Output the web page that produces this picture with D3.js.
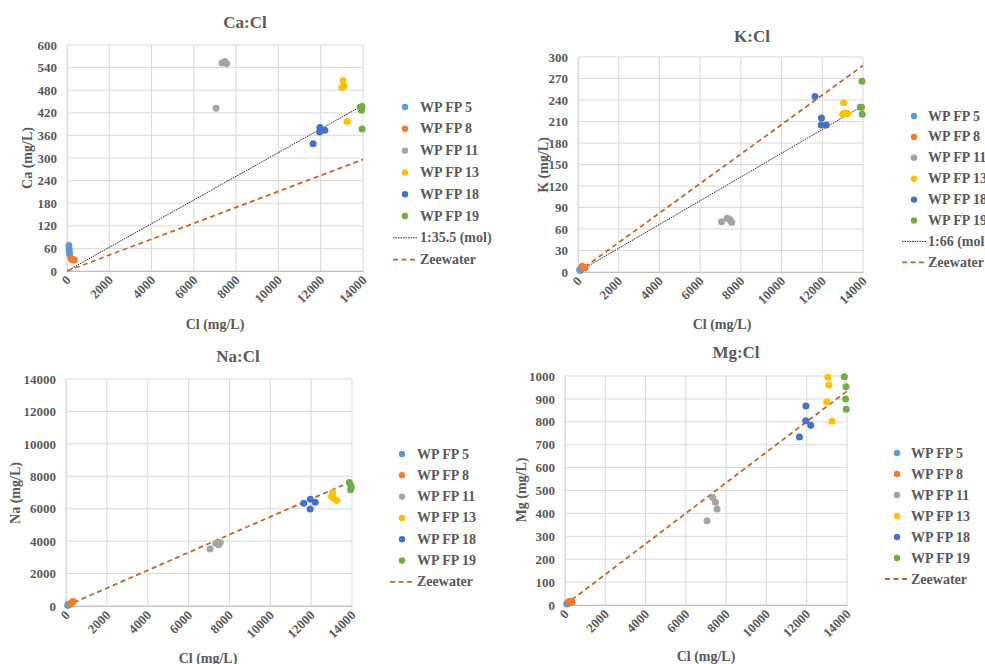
<!DOCTYPE html>
<html>
<head>
<meta charset="utf-8">
<script src="https://cdn.jsdelivr.net/npm/d3@7"></script>
<style>
  html, body { margin: 0; padding: 0; background: #fff; }
  svg { display: block; }
</style>
</head>
<body>
<svg id="chart" width="985" height="664"></svg>
<script>
// Sample series (monitoring wells) and their colours
const seriesNames = ["WP FP 5", "WP FP 8", "WP FP 11", "WP FP 13", "WP FP 18", "WP FP 19"];
const seriesColors = ["#5B9BD5", "#ED7D31", "#A5A5A5", "#FFC000", "#4472C4", "#70AD47"];

// Chloride per sample (mg/L), four samples per well
const clFP5  = [90, 100, 110, 120];
const clFP8  = [200, 250, 300, 350];
const clFP11 = [7050, 7330, 7470, 7550];
const clFP13 = [13000, 13050, 13100, 13250];
const clFP18 = [11640, 11950, 11960, 12200];
const clFP19 = [13870, 13950, 13930, 13960];
const clAll = [clFP5, clFP8, clFP11, clFP13, clFP18, clFP19];

// Calcium (mg/L)
const caValues = [[68, 57, 50, 45], [33, 30, 30, 29], [432, 552, 556, 551], [487, 506, 491, 397], [338, 369, 381, 374], [435, 437, 427, 377]];
// Potassium (mg/L)
const kValues = [[3, 3, 2, 3], [8, 7, 6, 6], [70, 75, 73, 69], [220, 236, 222, 221], [245, 205, 215, 205], [230, 266, 230, 220]];
// Sodium (mg/L)
const naValues = [[50, 60, 70, 80], [130, 180, 230, 270], [3520, 3870, 3770, 3910], [6750, 7000, 6650, 6505], [6340, 5990, 6590, 6400], [7620, 7410, 7170, 7300]];
// Magnesium (mg/L)
const mgValues = [[6, 6, 7, 6], [14, 16, 15, 13], [368, 469, 449, 419], [887, 994, 961, 802], [734, 805, 869, 785], [997, 953, 900, 855]];

// Reference lines: end points [Cl, ion] starting at the origin
const caMolLine = [[0, 0], [14000, 440]];
const caSeaLine = [[0, 0], [14000, 296]];
const kMolLine  = [[0, 0], [14000, 232]];
const kSeaLine  = [[0, 0], [14000, 288]];
const naSeaLine = [[0, 0], [14000, 7700]];
const mgSeaLine = [[0, 0], [14000, 934]];

// Axis ticks
const xTicks = [0, 2000, 4000, 6000, 8000, 10000, 12000, 14000];
const caTicks = [0, 60, 120, 180, 240, 300, 360, 420, 480, 540, 600];
const kTicks = [0, 30, 60, 90, 120, 150, 180, 210, 240, 270, 300];
const naTicks = [0, 2000, 4000, 6000, 8000, 10000, 12000, 14000];
const mgTicks = [0, 100, 200, 300, 400, 500, 600, 700, 800, 900, 1000];

const panels = [
  { title: "Ca:Cl", yLabel: "Ca (mg/L)", values: caValues, yTicks: caTicks,
    refLines: [{ name: "1:35.5 (mol)", pts: caMolLine, kind: "mol" }, { name: "Zeewater", pts: caSeaLine, kind: "sea" }],
    box: { x0: 67, x1: 363, top: 45, bottom: 271 }, titlePos: [245, 22],
    legend: { mx: 405, tx: 420, y0: 107, dy: 21.8 }, yLabPos: [27, 158], xLabPos: [215, 324] },
  { title: "K:Cl", yLabel: "K (mg/L)", values: kValues, yTicks: kTicks,
    refLines: [{ name: "1:66 (mol)", pts: kMolLine, kind: "mol" }, { name: "Zeewater", pts: kSeaLine, kind: "sea" }],
    box: { x0: 578, x1: 863, top: 57, bottom: 272 }, titlePos: [752, 36],
    legend: { mx: 914, tx: 928, y0: 116, dy: 20.9 }, yLabPos: [543, 165], xLabPos: [722, 324] },
  { title: "Na:Cl", yLabel: "Na (mg/L)", values: naValues, yTicks: naTicks,
    refLines: [{ name: "Zeewater", pts: naSeaLine, kind: "sea" }],
    box: { x0: 66, x1: 352, top: 379, bottom: 606 }, titlePos: [238, 356],
    legend: { mx: 402, tx: 417, y0: 454, dy: 21.3 }, yLabPos: [15, 493], xLabPos: [208, 658] },
  { title: "Mg:Cl", yLabel: "Mg (mg/L)", values: mgValues, yTicks: mgTicks,
    refLines: [{ name: "Zeewater", pts: mgSeaLine, kind: "sea" }],
    box: { x0: 565, x1: 847, top: 376, bottom: 605 }, titlePos: [736, 352],
    legend: { mx: 897, tx: 911, y0: 453, dy: 21 }, yLabPos: [521, 490], xLabPos: [706, 656] }
];

const svg = d3.select("#chart");
const seaColor = "#C0672E";
const textColor = "#595959";

// serif bold text helper
function styleText(sel, size) {
  return sel.style("font-family", '"Liberation Serif"')
    .style("font-weight", "bold")
    .style("font-size", size + "px")
    .style("fill", textColor);
}

panels.forEach(p => {
  const b = p.box;
  const x = d3.scaleLinear().domain([0, 14000]).range([b.x0, b.x1]);
  const y = d3.scaleLinear().domain([0, d3.max(p.yTicks)]).range([b.bottom, b.top]);
  const g = svg.append("g");

  // grid
  g.append("g").selectAll("line").data(xTicks).join("line")
    .attr("x1", d => x(d)).attr("x2", d => x(d))
    .attr("y1", b.top).attr("y2", b.bottom)
    .attr("stroke", "#D9D9D9").attr("stroke-width", 1);
  g.append("g").selectAll("line").data(p.yTicks).join("line")
    .attr("x1", b.x0).attr("x2", b.x1)
    .attr("y1", d => y(d)).attr("y2", d => y(d))
    .attr("stroke", "#D9D9D9").attr("stroke-width", 1);

  // axes
  const xAxis = d3.axisBottom(x).tickValues(xTicks).tickSize(0).tickPadding(0).tickFormat(d3.format("d"));
  const gx = g.append("g").attr("transform", `translate(0,${b.bottom})`).call(xAxis);
  gx.select(".domain").attr("stroke", "#BFBFBF");
  styleText(gx.selectAll("text"), 13)
    .attr("text-anchor", "end")
    .attr("dy", 0)
    .attr("transform", "translate(4,10) rotate(-45)");

  const yAxis = d3.axisLeft(y).tickValues(p.yTicks).tickSize(0).tickPadding(10).tickFormat(d3.format("d"));
  const gy = g.append("g").attr("transform", `translate(${b.x0},0)`).call(yAxis);
  gy.select(".domain").attr("stroke", "#D9D9D9");
  styleText(gy.selectAll("text"), 13);

  // reference lines
  const line = d3.line().x(d => x(d[0])).y(d => y(d[1]));
  p.refLines.forEach(r => {
    const path = g.append("path").datum(r.pts).attr("d", line).attr("fill", "none");
    if (r.kind === "mol") {
      path.attr("stroke", "#222").attr("stroke-width", 1).attr("stroke-dasharray", "1.5,1");
    } else {
      path.attr("stroke", seaColor).attr("stroke-width", 1.8).attr("stroke-dasharray", "5,3.5");
    }
  });

  // points
  p.values.forEach((vals, si) => {
    g.append("g").selectAll("circle").data(vals.map((v, i) => [clAll[si][i], v])).join("circle")
      .attr("cx", d => x(d[0])).attr("cy", d => y(d[1])).attr("r", 3.5)
      .attr("fill", seriesColors[si]);
  });

  // title and axis labels
  styleText(svg.append("text"), 17).attr("x", p.titlePos[0]).attr("y", p.titlePos[1])
    .attr("text-anchor", "middle").attr("dominant-baseline", "central").text(p.title);
  styleText(svg.append("text"), 14).attr("x", p.xLabPos[0]).attr("y", p.xLabPos[1])
    .attr("text-anchor", "middle").attr("dominant-baseline", "central").text("Cl (mg/L)");
  styleText(svg.append("text"), 14)
    .attr("transform", `translate(${p.yLabPos[0]},${p.yLabPos[1]}) rotate(-90)`)
    .attr("text-anchor", "middle").attr("dominant-baseline", "central").text(p.yLabel);

  // legend
  const L = p.legend;
  const lg = svg.append("g");
  seriesNames.forEach((name, i) => {
    const yy = L.y0 + i * L.dy;
    lg.append("circle").attr("cx", L.mx).attr("cy", yy).attr("r", 3.2).attr("fill", seriesColors[i]);
    styleText(lg.append("text"), 14).attr("x", L.tx).attr("y", yy)
      .attr("dominant-baseline", "central").text(name);
  });
  p.refLines.forEach((r, j) => {
    const yy = L.y0 + (seriesNames.length + j) * L.dy;
    const ln = lg.append("line").attr("x1", L.mx - 12).attr("x2", L.tx - 2).attr("y1", yy).attr("y2", yy);
    if (r.kind === "mol") ln.attr("stroke", "#222").attr("stroke-width", 1).attr("stroke-dasharray", "1.5,1");
    else ln.attr("stroke", seaColor).attr("stroke-width", 1.8).attr("stroke-dasharray", "5,3.5");
    styleText(lg.append("text"), 14).attr("x", L.tx).attr("y", yy)
      .attr("dominant-baseline", "central").text(r.name);
  });
});
</script>
</body>
</html>
